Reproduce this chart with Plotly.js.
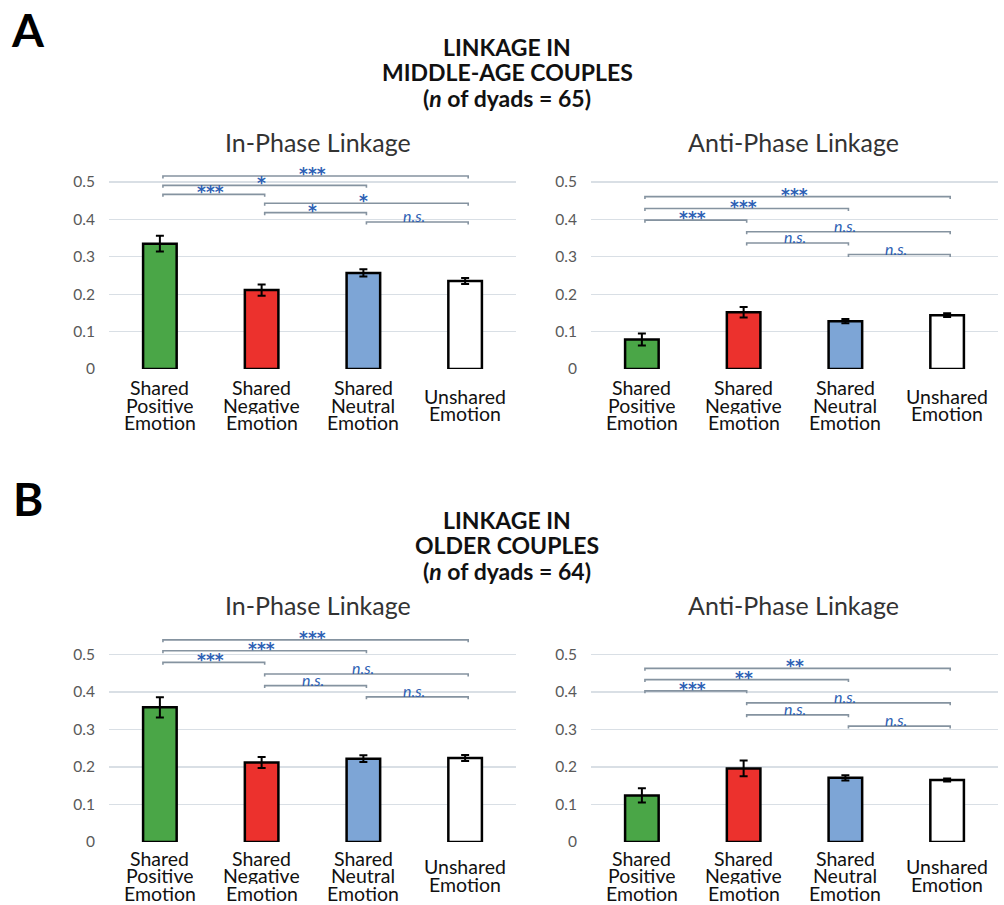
<!DOCTYPE html>
<html><head><meta charset="utf-8">
<script src="https://cdn.plot.ly/plotly-3.0.1.min.js"></script>
<style>html,body{margin:0;padding:0;background:#fff;}#chart{width:1004px;height:905px;}</style>
</head><body><div id="chart"></div>
<script>
// ---- data ----
const categories = ["Shared Positive Emotion", "Shared Negative Emotion", "Shared Neutral Emotion", "Unshared Emotion"];
const categoryLines = [["Shared","Positive","Emotion"],["Shared","Negative","Emotion"],["Shared","Neutral","Emotion"],["Unshared","Emotion"]];
const barColors = ["#4aa647", "#ec312d", "#7da5d6", "#ffffff"];
const yTicks = [0, 0.1, 0.2, 0.3, 0.4, 0.5];
const yTickText = ["0", "0.1", "0.2", "0.3", "0.4", "0.5"];

const midInPhase = [0.335, 0.211, 0.257, 0.235];
const midInPhaseErr = [0.021, 0.015, 0.010, 0.008];
const midAnti = [0.079, 0.152, 0.128, 0.144];
const midAntiErr = [0.016, 0.014, 0.006, 0.005];
const oldInPhase = [0.359, 0.212, 0.222, 0.224];
const oldInPhaseErr = [0.027, 0.015, 0.009, 0.008];
const oldAnti = [0.124, 0.196, 0.171, 0.165];
const oldAntiErr = [0.019, 0.021, 0.007, 0.004];

const comparisons = [[0,3],[0,2],[0,1],[1,3],[1,2],[2,3]];
const midInPhaseBracketY = [0.516, 0.491, 0.467, 0.443, 0.418, 0.393];
const midInPhaseSig = ["***","*","***","*","*","n.s."];
const midAntiBracketY = [0.461, 0.429, 0.398, 0.367, 0.337, 0.306];
const midAntiSig = ["***","***","***","n.s.","n.s.","n.s."];
const oldInPhaseBracketY = [0.539, 0.510, 0.479, 0.448, 0.417, 0.387];
const oldInPhaseSig = ["***","***","***","n.s.","n.s.","n.s."];
const oldAntiBracketY = [0.463, 0.433, 0.403, 0.371, 0.339, 0.309];
const oldAntiSig = ["**","**","***","n.s.","n.s.","n.s."];

const panelTitles = ["In-Phase Linkage", "Anti-Phase Linkage"];
const groupTitles = [
  ["LINKAGE IN", "MIDDLE-AGE COUPLES", "(<i>n</i> of dyads = 65)"],
  ["LINKAGE IN", "OLDER COUPLES", "(<i>n</i> of dyads = 64)"]
];
const groupLetters = ["A", "B"];

// ---- layout helpers ----
const W = 1004, H = 905;
const px2x = p => p / W;
const px2y = p => (H - p) / H;
const FONT = "Lato, 'Open Sans', sans-serif";

const panels = [
  {vals: midInPhase, err: midInPhaseErr, by: midInPhaseBracketY, sig: midInPhaseSig, x: [109, 516], y0: 369, yTop: 0.56, ppu: 374, lab: 36},
  {vals: midAnti, err: midAntiErr, by: midAntiBracketY, sig: midAntiSig, x: [591, 998], y0: 369, yTop: 0.56, ppu: 374, lab: 36},
  {vals: oldInPhase, err: oldInPhaseErr, by: oldInPhaseBracketY, sig: oldInPhaseSig, x: [109, 516], y0: 842, yTop: 0.58, ppu: 375, lab: 33.5},
  {vals: oldAnti, err: oldAntiErr, by: oldAntiBracketY, sig: oldAntiSig, x: [591, 998], y0: 842, yTop: 0.58, ppu: 375, lab: 33.5}
];

const data = [];
const layout = {
  width: W, height: H, margin: {l:0, r:0, t:0, b:0},
  paper_bgcolor: "#fff", plot_bgcolor: "rgba(0,0,0,0)",
  showlegend: false, font: {family: FONT},
  annotations: [], shapes: []
};

panels.forEach((p, i) => {
  const n = i + 1;
  const xa = "x" + (n === 1 ? "" : n), ya = "y" + (n === 1 ? "" : n);
  const xkey = "xaxis" + (n === 1 ? "" : n), ykey = "yaxis" + (n === 1 ? "" : n);
  const xs = categories.map((c, k) => k);
  data.push({
    type: "bar", x: xs, y: p.vals, xaxis: xa, yaxis: ya, width: 0.33,
    marker: {color: barColors, line: {color: "#000", width: 2.5}},
    error_y: {type: "data", array: p.err, visible: true, color: "#000", thickness: 2, width: 4},
    hoverinfo: "skip", cliponaxis: false
  });
  const topPx = p.y0 - p.yTop * p.ppu;
  layout[xkey] = {domain: [px2x(p.x[0]), px2x(p.x[1])], range: [-0.5, 3.5], anchor: ya,
    showgrid: false, zeroline: false, showline: false, showticklabels: false, ticks: "", fixedrange: true};
  layout[ykey] = {domain: [px2y(p.y0), px2y(topPx)], range: [0, p.yTop], anchor: xa,
    tickvals: yTicks, ticktext: yTickText, showgrid: true, gridcolor: "#d9dfe5", gridwidth: 1.2,
    zeroline: false, showline: false, ticks: "", ticklabelstandoff: 13,
    tickfont: {family: FONT, size: 15.5, color: "#595959"}, fixedrange: true};
  // category labels (line by line, vertically centred)
  categoryLines.forEach((lines, k) => {
    lines.forEach((ln, j) => {
      layout.annotations.push({
        xref: xa, yref: "paper", x: k, y: px2y(p.y0), xanchor: "center", yanchor: "middle",
        yshift: -(p.lab + (j - (lines.length - 1) / 2) * 17.5), text: ln, showarrow: false, borderpad: 0,
        height: 17, font: {family: FONT, size: 19.5, color: "#111"}
      });
    });
  });
  // significance brackets
  const tick = 2.5 / p.ppu, off = 0.03;
  comparisons.forEach((c, k) => {
    const x1 = c[0] + off, x2 = c[1] + off, yy = p.by[k];
    layout.shapes.push({
      type: "path", xref: xa, yref: ya,
      path: `M ${x1} ${yy - tick} L ${x1} ${yy} L ${x2} ${yy} L ${x2} ${yy - tick}`,
      line: {color: "#8593a0", width: 1.6}
    });
    const ns = p.sig[k] === "n.s.";
    layout.annotations.push({
      xref: xa, yref: ya, x: (c[0] + c[1]) / 2, y: yy, xanchor: "center", yanchor: "bottom",
      yshift: ns ? -5 : -10, showarrow: false,
      text: ns ? "<i>n.s.</i>" : "<b>" + p.sig[k] + "</b>",
      font: ns ? {family: FONT, size: 16, color: "#2d5fb4"} : {family: "'DejaVu Sans', sans-serif", size: 17, color: "#2d5fb4"}
    });
  });
});

// panel titles
[142, 605].forEach(yp => {
  [318, 793].forEach((xp, k) => {
    layout.annotations.push({xref: "paper", yref: "paper", x: px2x(xp), y: px2y(yp), xanchor: "center", yanchor: "middle",
      text: panelTitles[k], showarrow: false, font: {family: FONT, size: 25, color: "#333"}});
  });
});
// group titles
[[47, 72, 98], [520, 545, 571]].forEach((ys, g) => {
  ys.forEach((yp, j) => {
    layout.annotations.push({xref: "paper", yref: "paper", x: px2x(507), y: px2y(yp), xanchor: "center", yanchor: "middle",
      text: "<b>" + groupTitles[g][j] + "</b>", showarrow: false, font: {family: FONT, size: 23, color: "#111"}});
  });
  layout.annotations.push({xref: "paper", yref: "paper", x: px2x(28), y: px2y([29, 498][g]), xanchor: "center", yanchor: "middle",
    text: "<b>" + groupLetters[g] + "</b>", showarrow: false, font: {family: FONT, size: 46, color: "#000"}});
});

Plotly.newPlot("chart", data, layout, {displayModeBar: false, staticPlot: true});
</script></body></html>
